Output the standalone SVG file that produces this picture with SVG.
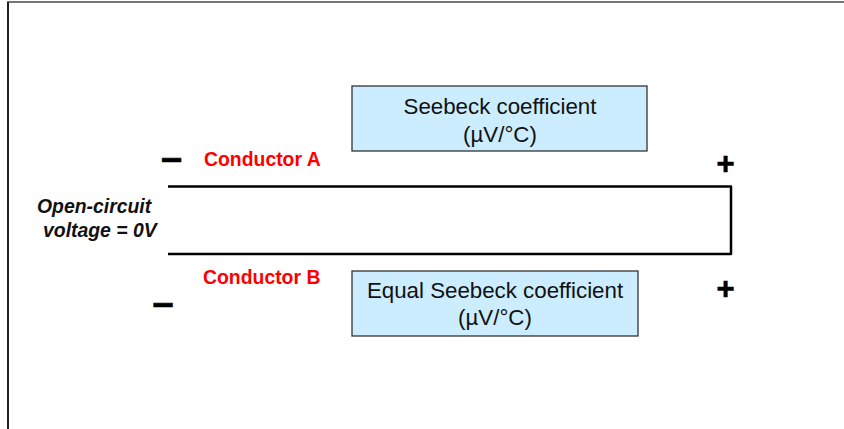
<svg xmlns="http://www.w3.org/2000/svg" width="844" height="429" viewBox="0 0 844 429">
<style>
.box{fill:#CCECFF;stroke:#333;stroke-width:1.3}
.bt{font-family:"Liberation Sans",Arial,sans-serif;font-size:22.3px;fill:#111;text-anchor:middle}
.red{font-family:"Liberation Sans",Arial,sans-serif;font-size:19.4px;font-weight:bold;fill:#FF0000}
.lbl{font-family:"Liberation Sans",Arial,sans-serif;font-size:19.4px;font-weight:bold;font-style:italic;fill:#111}
.sym{font-family:"Liberation Sans",Arial,sans-serif;font-weight:bold;fill:#000;stroke:#000;stroke-width:0.6;text-anchor:middle}
.wire{fill:none;stroke:#000;stroke-width:2.5;stroke-linejoin:round}
</style>
<rect width="844" height="429" fill="#fff"/>
<g id="frame">
<line x1="7" y1="2" x2="844" y2="2" stroke="#777" stroke-width="2"/>
<line x1="8" y1="2" x2="8" y2="429" stroke="#222" stroke-width="2"/>
</g>
<g id="connectors">
<path class="wire" d="M168 186.5 H731 V254 H168"/>
</g>
<g id="box-a">
<rect class="box" x="352" y="86" width="295" height="65"/>
<text class="bt" x="500" y="114">Seebeck coefficient</text>
<text class="bt" x="500" y="142">(µV/°C)</text>
</g>
<g id="box-b">
<rect class="box" x="352" y="271" width="286" height="65"/>
<text class="bt" x="495" y="298">Equal Seebeck coefficient</text>
<text class="bt" x="495" y="325">(µV/°C)</text>
</g>
<g id="conductor-a">
<text class="red" x="204" y="166">Conductor A</text>
</g>
<g id="conductor-b">
<text class="red" x="203" y="284">Conductor B</text>
</g>
<g id="open-circuit">
<text class="lbl" x="37" y="213">Open-circuit</text>
<text class="lbl" x="43" y="237">voltage = 0V</text>
</g>
<g id="polarity">
<text class="sym" x="171.5" y="171" font-size="38">–</text>
<text class="sym" x="163" y="316" font-size="38">–</text>
<text class="sym" x="725.5" y="174" font-size="31">+</text>
<text class="sym" x="725.5" y="299" font-size="31">+</text>
</g>
</svg>
